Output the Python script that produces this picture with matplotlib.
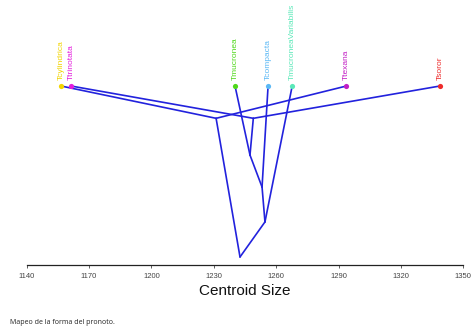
import matplotlib
matplotlib.use('Agg')
import matplotlib.pyplot as plt

# tips: species, centroid size, colour
tip_names = ['Tcylindrica', 'Ttrinotata', 'Tmucronea', 'Tcompacta',
             'TmucroneaVariabilis', 'Ttexana', 'Tsoror']
tip_size = [1156.5, 1161.3, 1240.2, 1256.1, 1267.7, 1293.8, 1338.8]
tip_colors = ['#F2D400', '#E41CDC', '#4FD81A', '#5AB8F5',
              '#5AE8B8', '#C21EC4', '#EE2B2B']

# internal nodes: estimated ancestral size and relative height (root = 0, tips = 1)
node_names = ['root', 'n1', 'n2', 'n3', 'n4', 'n5']
node_size = [1242.6, 1231.1, 1254.6, 1253.2, 1247.4, 1249.0]
node_height = [0.0, 0.811, 0.205, 0.409, 0.596, 0.811]

# branches (parent -> child)
edge_parent = ['root', 'root', 'n1', 'n1', 'n2', 'n2', 'n3', 'n3', 'n4', 'n4', 'n5', 'n5']
edge_child = ['n1', 'n2', 'Tcylindrica', 'Ttexana', 'n3', 'TmucroneaVariabilis',
              'n4', 'Tcompacta', 'Tmucronea', 'n5', 'Ttrinotata', 'Tsoror']

xticks = [1140, 1170, 1200, 1230, 1260, 1290, 1320, 1350]

pos = {}
for name, s in zip(tip_names, tip_size):
    pos[name] = (s, 1.0)
for name, s, h in zip(node_names, node_size, node_height):
    pos[name] = (s, h)

W, H = 474, 328
fig = plt.figure(figsize=(W / 100, H / 100), dpi=100)
fig.patch.set_facecolor('white')
ax = fig.add_axes([26.7 / W, 63 / H, 436.6 / W, 179 / H])

for p, c in zip(edge_parent, edge_child):
    x0, y0 = pos[p]
    x1, y1 = pos[c]
    ax.plot([x0, x1], [y0, y1], color='#2222DD', lw=1.2, solid_capstyle='round',
            zorder=2, clip_on=False)

for name, s, col in zip(tip_names, tip_size, tip_colors):
    ax.scatter([s], [1.0], s=14, color=col, zorder=3, clip_on=False, linewidths=0)
    ax.annotate(name, (s, 1.0), xytext=(0, 4), textcoords='offset points',
                rotation=90, ha='center', va='bottom', color=col,
                fontsize=6, family='Liberation Sans')

ax.set_xlim(1140, 1350)
ax.set_ylim(-0.0468, 1.0)
for side in ['top', 'right', 'left']:
    ax.spines[side].set_visible(False)
ax.spines['bottom'].set_color('#222222')
ax.spines['bottom'].set_linewidth(0.9)
ax.set_yticks([])
ax.set_xticks(xticks)
ax.tick_params(axis='x', length=2.5, width=0.6, pad=3, labelsize=5.5,
               colors='#444444')
for lab in ax.get_xticklabels():
    lab.set_family('Liberation Sans')
ax.set_xlabel('Centroid Size', fontsize=11, family='Liberation Sans',
              color='#111111', labelpad=3)

fig.text(10 / W, 1 - 322 / H, 'Mapeo de la forma del pronoto.', fontsize=5,
         family='Open Sans', color='#222222', va='center', ha='left')

fig.savefig('out.png', dpi=100)
plt.close(fig)
